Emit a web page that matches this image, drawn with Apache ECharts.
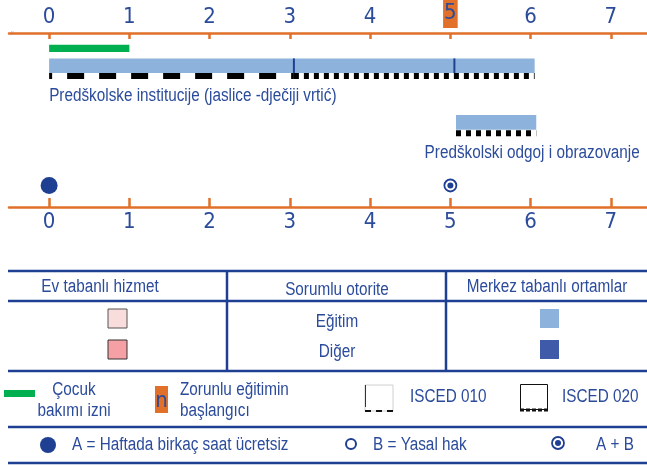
<!DOCTYPE html>
<html>
<head>
<meta charset="utf-8">
<script src="https://cdn.jsdelivr.net/npm/echarts@6/dist/echarts.min.js"></script>
<style>
  html, body { margin: 0; padding: 0; background: #fff; }
  #chart { width: 647px; height: 465px; }
</style>
</head>
<body>
<div id="chart"></div>
<script>
// ages on the axis
const ageTicks = [0, 1, 2, 3, 4, 5, 6, 7];
const compulsoryAge = 5;

// spans in years of age
const leaveSpan = [0, 1];
const institutionSpan = [0, 6.05];
const institutionBreaks = [3.05, 5.05];
const isced010Span = [0, 3.05];
const isced020Span = [3.05, 6.05];
const preschoolSpan = [5.07, 6.07];
const preschoolIsced020 = [5.07, 6.07];

// entitlements
const freeHoursAges = [0];
const bothAges = [5];

const rowLabels = ['Predškolske institucije (jaslice -dječiji vrtić)', 'Predškolski odgoj i obrazovanje'];

const FONT = "'Liberation Sans', Arial, sans-serif";
const AXFONT = "'DejaVu Sans Condensed', 'Liberation Sans', sans-serif";
const SX = 0.85; // squeeze to mimic a narrow face
const ORANGE = '#e0702a';
const BLUE = '#1f3f93';
const TXT = '#2b4b9b';
const LIGHT = '#8db3dc';
const GREEN = '#00b050';

// vertical lanes inside the grid (pixels from the top axis)
const lane = {
  leave: [12, 7.5],
  inst: [26, 15],
  instDash: 44,
  instLabel: 64,
  pre: [84, 15],
  preDash: 102.5,
  preLabel: 123,
  dots: 156
};

const chart = echarts.init(document.getElementById('chart'));

function xAxisOpt(pos, tickLen, margin) {
  return {
    type: 'value', position: pos, min: -0.5, max: 7.45,
    splitLine: { show: false },
    axisLine: { show: true, lineStyle: { color: ORANGE, width: 2.5 } },
    axisTick: { show: true, inside: true, length: tickLen, customValues: ageTicks,
      lineStyle: { color: ORANGE, width: 2.5 } },
    axisLabel: {
      customValues: ageTicks, margin: margin, color: TXT, fontFamily: AXFONT, fontSize: 22,
      formatter: function (v) {
        return (pos === 'top' && v === compulsoryAge) ? '{hl|' + v + '}' : String(v);
      },
      rich: { hl: { backgroundColor: ORANGE, color: TXT, fontFamily: AXFONT, fontSize: 22, padding: [2, 1, 4, 1] } }
    }
  };
}

function txt(x, y, s, opt) {
  opt = opt || {};
  return {
    type: 'text', x: x, y: y, scaleX: SX,
    style: { text: s, fill: TXT, font: (opt.size || 18) + 'px ' + FONT,
      align: opt.align || 'left', verticalAlign: opt.va || 'middle', lineHeight: opt.lh }
  };
}

const rects = [
  { value: [leaveSpan[0], leaveSpan[1], lane.leave[0], lane.leave[1]], color: GREEN },
  { value: [institutionSpan[0], institutionSpan[1], lane.inst[0], lane.inst[1]], color: LIGHT },
  { value: [preschoolSpan[0], preschoolSpan[1], lane.pre[0], lane.pre[1]], color: LIGHT }
];

const dashes = [
  { value: [isced010Span[0], isced010Span[1], lane.instDash], dash: [17, 15], offset: 14 },
  { value: [isced020Span[0], isced020Span[1], lane.instDash], dash: [5, 5], offset: 0 },
  { value: [preschoolIsced020[0], preschoolIsced020[1], lane.preDash], dash: [5, 5], offset: 0 }
];

const breaks = institutionBreaks.map(function (b) { return [b, lane.inst[0], lane.inst[1]]; });

const dots = freeHoursAges.map(function (a) { return [a, lane.dots, 'A']; })
  .concat(bothAges.map(function (a) { return [a, lane.dots, 'AB']; }));

const option = {
  animation: false,
  grid: { left: 9, right: 0, top: 29, height: 178 },
  xAxis: [xAxisOpt('top', 6, 5), xAxisOpt('bottom', 9, 4)],
  yAxis: { type: 'value', min: 0, max: 178, inverse: true, show: false },
  series: [
    {
      type: 'custom', xAxisIndex: 0, data: rects,
      renderItem: function (params, api) {
        const p0 = api.coord([api.value(0), api.value(2)]);
        const p1 = api.coord([api.value(1), api.value(2) + api.value(3)]);
        return { type: 'rect', shape: { x: p0[0], y: p0[1], width: p1[0] - p0[0], height: p1[1] - p0[1] },
          style: { fill: rects[params.dataIndex].color } };
      }
    },
    {
      type: 'custom', xAxisIndex: 0, data: dashes,
      renderItem: function (params, api) {
        const d = dashes[params.dataIndex];
        const p0 = api.coord([api.value(0), api.value(2)]);
        const p1 = api.coord([api.value(1), api.value(2)]);
        return { type: 'line', shape: { x1: p0[0], y1: p0[1], x2: p1[0], y2: p1[1] },
          style: { stroke: '#000', lineWidth: 6, lineDash: d.dash, lineDashOffset: d.offset } };
      }
    },
    {
      type: 'custom', xAxisIndex: 0, data: breaks,
      renderItem: function (params, api) {
        const p0 = api.coord([api.value(0), api.value(1)]);
        const p1 = api.coord([api.value(0), api.value(1) + api.value(2)]);
        return { type: 'line', shape: { x1: p0[0], y1: p0[1], x2: p1[0], y2: p1[1] },
          style: { stroke: BLUE, lineWidth: 2 } };
      }
    },
    {
      type: 'custom', xAxisIndex: 0,
      data: [[institutionSpan[0], lane.instLabel, 0], [7.36, lane.preLabel, 1]],
      renderItem: function (params, api) {
        const p = api.coord([api.value(0), api.value(1)]);
        const i = api.value(2);
        return txt(p[0], p[1], rowLabels[i], { align: i === 0 ? 'left' : 'right' });
      }
    },
    {
      type: 'custom', xAxisIndex: 0, data: dots,
      renderItem: function (params, api) {
        const p = api.coord([api.value(0), api.value(1)]);
        if (dots[params.dataIndex][2] === 'A') {
          return { type: 'circle', shape: { cx: p[0], cy: p[1], r: 8.5 }, style: { fill: BLUE } };
        }
        return { type: 'group', children: [
          { type: 'circle', shape: { cx: p[0], cy: p[1], r: 6 }, style: { fill: '#fff', stroke: BLUE, lineWidth: 1.8 } },
          { type: 'circle', shape: { cx: p[0], cy: p[1], r: 3 }, style: { fill: BLUE } }
        ] };
      }
    }
  ],
  graphic: [
    { type: 'text', left: 8, top: 30, style: { text: '〃', fill: '#9fb3d8', font: '8px ' + FONT } },
    // table lines
    { type: 'line', shape: { x1: 8, y1: 271, x2: 647, y2: 271 }, style: { stroke: BLUE, lineWidth: 2.5 } },
    { type: 'line', shape: { x1: 8, y1: 301, x2: 647, y2: 301 }, style: { stroke: BLUE, lineWidth: 2.5 } },
    { type: 'line', shape: { x1: 8, y1: 371, x2: 647, y2: 371 }, style: { stroke: BLUE, lineWidth: 2.5 } },
    { type: 'line', shape: { x1: 8, y1: 427, x2: 647, y2: 427 }, style: { stroke: BLUE, lineWidth: 2.5 } },
    { type: 'line', shape: { x1: 8, y1: 463, x2: 647, y2: 463 }, style: { stroke: BLUE, lineWidth: 2.5 } },
    { type: 'line', shape: { x1: 227, y1: 271, x2: 227, y2: 371 }, style: { stroke: BLUE, lineWidth: 2.5 } },
    { type: 'line', shape: { x1: 446, y1: 271, x2: 446, y2: 371 }, style: { stroke: BLUE, lineWidth: 2.5 } },
    // headers
    txt(100, 287, 'Ev tabanlı hizmet', { align: 'center' }),
    txt(337, 290, 'Sorumlu otorite', { align: 'center' }),
    txt(547, 287, 'Merkez tabanlı ortamlar', { align: 'center' }),
    txt(337, 322, 'Eğitim', { align: 'center' }),
    txt(337, 352, 'Diğer', { align: 'center' }),
    { type: 'rect', shape: { x: 108, y: 309, width: 19, height: 19 }, style: { fill: '#f9dcdc', stroke: '#555', lineWidth: 1 } },
    { type: 'rect', shape: { x: 108, y: 340, width: 19, height: 19 }, style: { fill: '#f4a0a4', stroke: '#333', lineWidth: 1 } },
    { type: 'rect', shape: { x: 540, y: 309, width: 19, height: 19 }, style: { fill: LIGHT } },
    { type: 'rect', shape: { x: 540, y: 340, width: 19, height: 19 }, style: { fill: '#3f5aa8' } },
    // legend row 1
    { type: 'rect', shape: { x: 4, y: 390, width: 31, height: 7 }, style: { fill: GREEN } },
    txt(74, 380, 'Çocuk\nbakımı izni', { align: 'center', va: 'top', lh: 21 }),
    { type: 'rect', shape: { x: 155, y: 386, width: 13, height: 27 }, style: { fill: ORANGE } },
    { type: 'text', x: 161.5, y: 401, style: { text: 'n', fill: TXT, font: '22px ' + AXFONT, align: 'center', verticalAlign: 'middle' } },
    txt(180, 380, 'Zorunlu eğitimin\nbaşlangıcı', { va: 'top', lh: 21 }),
    { type: 'rect', shape: { x: 365, y: 385, width: 28, height: 26 }, style: { fill: '#fff', stroke: '#d0d0d0', lineWidth: 1 } },
    { type: 'line', shape: { x1: 365.5, y1: 385, x2: 365.5, y2: 407 }, style: { stroke: '#333', lineWidth: 1 } },
    { type: 'line', shape: { x1: 365, y1: 411, x2: 393, y2: 411 }, style: { stroke: '#111', lineWidth: 2, lineDash: [6, 5] } },
    txt(410, 397, 'ISCED 010'),
    { type: 'rect', shape: { x: 520.5, y: 384.5, width: 27, height: 25 }, style: { fill: '#fff', stroke: '#111', lineWidth: 1 } },
    { type: 'line', shape: { x1: 520, y1: 410, x2: 548, y2: 410 }, style: { stroke: '#111', lineWidth: 3, lineDash: [4, 2] } },
    txt(562, 397, 'ISCED 020'),
    // legend row 2
    { type: 'circle', shape: { cx: 48, cy: 445, r: 8 }, style: { fill: BLUE } },
    txt(72, 445, 'A = Haftada birkaç saat ücretsiz'),
    { type: 'circle', shape: { cx: 351, cy: 444, r: 5 }, style: { fill: '#fff', stroke: BLUE, lineWidth: 2 } },
    txt(373, 445, 'B = Yasal hak'),
    { type: 'circle', shape: { cx: 558, cy: 443, r: 6 }, style: { fill: '#fff', stroke: BLUE, lineWidth: 1.8 } },
    { type: 'circle', shape: { cx: 558, cy: 443, r: 3 }, style: { fill: BLUE } },
    txt(596, 445, 'A + B')
  ]
};

chart.setOption(option);
</script>
</body>
</html>
